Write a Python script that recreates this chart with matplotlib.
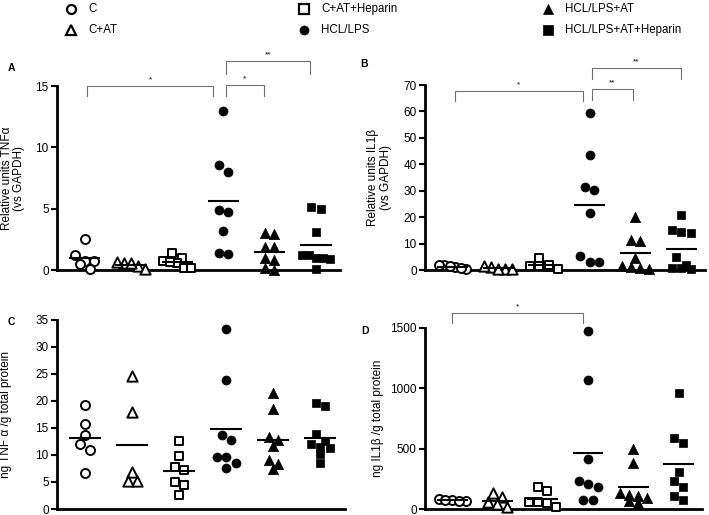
import numpy as np
import matplotlib
matplotlib.use("Agg")
import matplotlib.pyplot as plt
from matplotlib.lines import Line2D

plt.rcParams['font.family'] = ['Liberation Sans', 'DejaVu Sans']

groups = ['C', 'C+AT', 'C+AT+Heparin', 'HCL/LPS', 'HCL/LPS+AT', 'HCL/LPS+AT+Heparin']

# A - TNFa relative units (vs GAPDH)
tnf_rel = [
    [2.5, 0.75, 1.2, 0.75, 0.45, 0.05],
    [0.6, 0.3, 0.65, 0.55, 0.05],
    [1.35, 1.0, 0.7, 0.6, 0.65, 0.15, 0.15],
    [13.0, 8.6, 8.0, 4.7, 4.9, 3.15, 1.3, 1.4],
    [3.0, 2.9, 1.9, 1.85, 0.95, 0.8, 0.0, 0.15],
    [5.1, 5.0, 3.1, 1.2, 1.0, 0.9, 1.0, 1.2, 0.1],
]
# B - IL1b relative units (vs GAPDH)
il1_rel = [
    [1.0, 0.2, 1.8, 1.6, 0.8, 2.0],
    [0.3, 1.2, 0.5, 1.5, 0.2],
    [4.5, 1.5, 1.0, 1.5, 0.2, 2.0],
    [59.3, 43.5, 30.4, 31.4, 21.5, 5.2, 3.0, 3.0],
    [20.0, 11.5, 10.8, 4.5, 1.2, 0.8, 1.5, 0.5],
    [20.8, 15.1, 14.5, 13.9, 4.8, 0.8, 0.3, 0.9, 2.0],
]
# C - ng TNFa / g total protein
tnf_prot = [
    [19.3, 15.8, 13.7, 12.0, 11.0, 6.65],
    [24.7, 17.9, 6.8, 5.1, 5.2],
    [12.6, 9.9, 7.3, 7.8, 5.0, 4.4, 2.5],
    [33.3, 23.8, 13.7, 12.8, 9.7, 9.7, 8.5, 7.6],
    [21.4, 18.5, 12.8, 13.4, 11.6, 9.1, 8.4, 7.4],
    [19.7, 19.0, 13.9, 12.5, 12.1, 11.3, 11.5, 10.2, 8.6],
]
# D - ng IL1b / g total protein
il1_prot = [
    [65, 72, 80, 75, 70],
    [100, 130, 60, 40, 20],
    [185, 150, 55, 55, 50, 20],
    [1475, 1068, 413, 209, 229, 182, 72, 72],
    [495, 385, 135, 110, 115, 65, 50, 95],
    [958, 592, 545, 303, 234, 182, 105, 72],
]

markers = ['o', '^', 's', 'o', '^', 's']
faces = ['white', 'white', 'white', 'black', 'black', 'black']
msize = {'o': 42, '^': 55, 's': 38}


def swarm(ax, vals, xc, size_px=9.5, max_half=0.3):
    vals = np.asarray(vals, float)
    ypx = ax.transData.transform(np.column_stack([np.full(len(vals), xc), vals]))[:, 1]
    px_per_x = ax.transData.transform((1, 0))[0] - ax.transData.transform((0, 0))[0]
    order = np.argsort(-vals, kind='stable')
    rows = []
    for i in order:
        if rows and abs(ypx[rows[-1][0]] - ypx[i]) < 0.8 * size_px:
            rows[-1].append(i)
        else:
            rows.append([i])
    xs = np.zeros(len(vals))
    for row in rows:
        n = len(row)
        step = min(size_px / px_per_x, 2 * max_half / (n - 1)) if n > 1 else 0
        for k, i in enumerate(row):
            xs[i] = xc + (k - (n - 1) / 2) * step
    return xs


def bracket(ax, x0, x1, y, leg, label, yr):
    ax.plot([x0, x0, x1, x1], [y - leg, y, y, y - leg], color='#707070', lw=0.8,
            clip_on=False)
    ax.text((x0 + x1) / 2, y + 0.015 * yr, label, ha='center', va='bottom',
            fontsize=6, clip_on=False)


def panel(rect, data, ymax, yticks, ylabel, label_x):
    ax = fig.add_axes(rect)
    ax.set_xlim(-0.6, 5.52)
    ax.set_ylim(0, ymax)
    ax.set_yticks(yticks)
    ax.set_xticks([])
    for s in ['top', 'right']:
        ax.spines[s].set_visible(False)
    for s in ['left', 'bottom']:
        ax.spines[s].set_linewidth(2)
    ax.tick_params(axis='y', direction='out', length=4, width=1.5, labelsize=8.5, pad=2)
    ax.set_ylabel(ylabel, fontsize=8.5, linespacing=1.05)
    ax.yaxis.set_label_coords(label_x, 0.5)
    for g, vals in enumerate(data):
        xs = swarm(ax, vals, g)
        m = markers[g]
        filled = faces[g] == 'black'
        ax.scatter(xs, vals, marker=m, s=msize[m], facecolor=faces[g],
                   edgecolor='black', linewidth=0.5 if filled else 1.4,
                   zorder=3, clip_on=False)
        ax.hlines(np.mean(vals), g - 0.34, g + 0.34, color='black', lw=1.5, zorder=4)
    return ax


fig = plt.figure(figsize=(7.09, 5.15), dpi=100)

axA = panel([0.0804, 0.4757, 0.3992, 0.3573], tnf_rel, 15, [0, 5, 10, 15],
            'Relative units TNF\u03b1\n(vs GAPDH)', -0.113)
bracket(axA, 0.05, 2.78, 15.0, 0.8, '*', 15)
bracket(axA, 3.05, 3.88, 15.1, 0.9, '*', 15)
bracket(axA, 3.05, 4.88, 17.0, 1.0, '**', 15)

axB = panel([0.5994, 0.4757, 0.395, 0.3592], il1_rel, 70, range(0, 71, 10),
            'Relative units IL1\u03b2\n(vs GAPDH)', -0.118)
bracket(axB, 0.05, 2.85, 67.7, 3.6, '*', 70)
bracket(axB, 3.05, 3.95, 68.5, 4.3, '**', 70)
bracket(axB, 3.05, 5.0, 76.3, 4.1, '**', 70)

axC = panel([0.0804, 0.01165, 0.406, 0.367], tnf_prot, 35, range(0, 36, 5),
            'ng TNF \u03b1 /g total protein', -0.156)

axD = panel([0.5994, 0.01165, 0.391, 0.3515], il1_prot, 1500, [0, 500, 1000, 1500],
            'ng IL1\u03b2 /g total protein', -0.148)
bracket(axD, 0.0, 2.88, 1626, 87, '*', 1500)

for lab, x, y in [('A', 8, 68), ('B', 360, 64), ('C', 8, 322), ('D', 361, 331)]:
    fig.text(x / 709, 1 - y / 515, lab, fontsize=7.5, fontweight='bold',
             ha='left', va='center')

# legend, column-wise
leg_x = [71, 304, 548]
leg_y = [9, 30]
for g, name in enumerate(groups):
    col, row = divmod(g, 2)
    m = markers[g]
    filled = faces[g] == 'black'
    fx, fy = leg_x[col] / 709, 1 - leg_y[row] / 515
    fig.add_artist(Line2D([fx], [fy], marker=m, markersize=6.5 if m != '^' else 7.5,
                          markerfacecolor=faces[g], markeredgecolor='black',
                          markeredgewidth=0.5 if filled else 1.6,
                          linestyle='none', transform=fig.transFigure))
    fig.text(fx + 17 / 709, fy, name, fontsize=8.3, ha='left', va='center')

fig.savefig('out.png', dpi=100)
